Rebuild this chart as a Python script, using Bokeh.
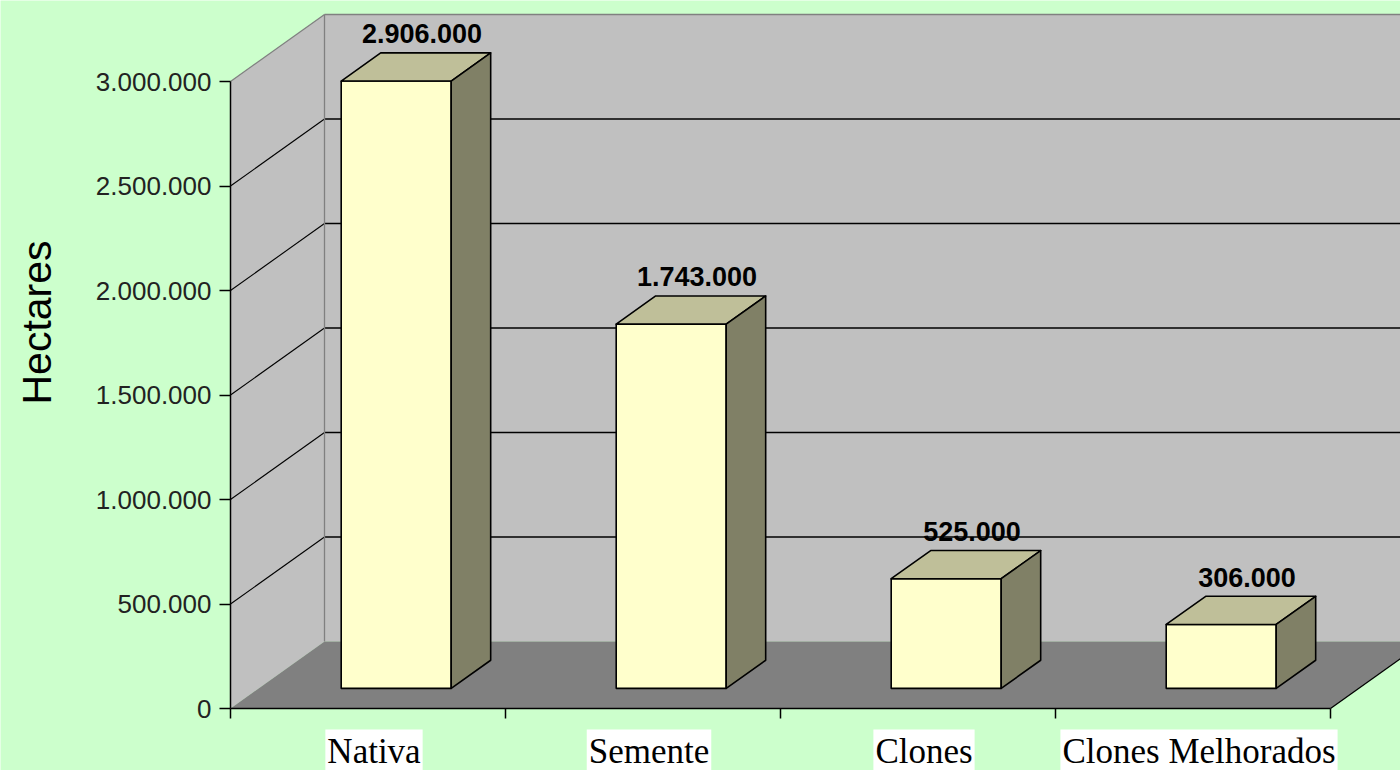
import math
from bokeh.plotting import figure
from bokeh.models import Range1d, LinearAxis, FixedTicker, Label, ColumnDataSource
from bokeh.core.properties import value
from bokeh.embed import file_html
from bokeh.resources import INLINE

# ---------------- data ----------------
categories = ["Nativa", "Semente", "Clones", "Clones Melhorados"]
hectares = [2906000, 1743000, 525000, 306000]
value_labels = ["2.906.000", "1.743.000", "525.000", "306.000"]
y_ticks = [0, 500000, 1000000, 1500000, 2000000, 2500000, 3000000]
y_tick_labels = ["0", "500.000", "1.000.000", "1.500.000", "2.000.000", "2.500.000", "3.000.000"]
y_title = "Hectares"

# ---------------- geometry / style ----------------
W, H = 1400, 770
ORIG_X, ORIG_Y = 230, 708      # pixel position of the front (0, 0) corner
CAT_PX = 275.0
VMAX = y_ticks[-1]
AXIS_PX = 627.0
vpp = VMAX / AXIS_PX            # value units per pixel
cpp = 1.0 / CAT_PX              # category units per pixel
N = len(categories)

DX = 94 * cpp                   # depth offset (x)
DY = 67 * vpp                   # depth offset (y)
F0, F1 = 0.30, 0.72             # bar front / back depth fractions
BAR_W = 0.40

BG = "#CCFFCC"
WALL = "#C0C0C0"
FLOOR = "#808080"
EDGE = "#808080"
FRONT = "#FFFFCC"
TOP = "#BFBF99"
SIDE = "#808066"

p = figure(width=W, height=H,
           x_range=Range1d(-ORIG_X * cpp, (W - ORIG_X) * cpp),
           y_range=Range1d(-(H - ORIG_Y) * vpp, ORIG_Y * vpp),
           output_backend="svg", toolbar_location=None,
           x_axis_type=None, y_axis_type=None, min_border=0)
p.background_fill_color = BG
p.border_fill_color = BG
p.outline_line_color = None

# ---------------- walls and floor ----------------
p.patch([DX, N + DX + 1, N + DX + 1, DX], [DY, DY, VMAX + DY, VMAX + DY],
        fill_color=WALL, line_color=None)
p.patch([0, 0, DX, DX], [0, VMAX, VMAX + DY, DY], fill_color=WALL, line_color=None)

grid_vals = [t for t in y_ticks if 0 < t < VMAX]
p.multi_line(xs=[[DX, N + DX + 1] for _ in grid_vals],
             ys=[[v + DY, v + DY] for v in grid_vals],
             line_color="black", line_width=1.3)
p.multi_line(xs=[[0, DX] for _ in grid_vals],
             ys=[[v, v + DY] for v in grid_vals],
             line_color="black", line_width=1.1)

# wall edges (grey)
p.multi_line(xs=[[0, DX], [DX, N + DX + 1], [DX, DX]],
             ys=[[VMAX, VMAX + DY], [VMAX + DY, VMAX + DY], [DY, VMAX + DY]],
             line_color=EDGE, line_width=1.3)

p.patch([0, DX, N + DX, N], [0, DY, DY, 0], fill_color=FLOOR, line_color=None)
p.line([N, N + DX], [0, DY], line_color="black", line_width=1.3)

# ---------------- bars ----------------
xc = [i + 0.5 + F0 * DX for i in range(N)]
xl = [c - BAR_W / 2 for c in xc]
xr = [c + BAR_W / 2 for c in xc]
yb = [F0 * DY] * N
yt = [v + F0 * DY for v in hectares]
ddx = (F1 - F0) * DX
ddy = (F1 - F0) * DY

p.quad(left=xl, right=xr, bottom=yb, top=yt,
       fill_color=FRONT, line_color="black", line_width=1.6)
p.patches(xs=[[a, b, b + ddx, a + ddx] for a, b in zip(xl, xr)],
          ys=[[t, t, t + ddy, t + ddy] for t in yt],
          fill_color=TOP, line_color="black", line_width=1.6, line_join="round")
p.patches(xs=[[b, b + ddx, b + ddx, b] for b in xr],
          ys=[[y0, y0 + ddy, t + ddy, t] for y0, t in zip(yb, yt)],
          fill_color=SIDE, line_color="black", line_width=1.6, line_join="round")

# value labels
lab_src = ColumnDataSource(dict(
    x=[c + ddx / 2 + 6 * cpp for c in xc],
    y=[t + ddy + 19 * vpp for t in yt],
    text=value_labels))
p.text(x="x", y="y", text="text", source=lab_src,
       text_font=value("Liberation Sans"), text_font_style="bold",
       text_font_size="27px", text_color="black",
       text_align="center", text_baseline="alphabetic")

# ---------------- axes (fixed at the front corner) ----------------
yaxis = LinearAxis(ticker=FixedTicker(ticks=y_ticks),
                   major_label_overrides={t: l for t, l in zip(y_ticks, y_tick_labels)},
                   bounds=(0, VMAX), fixed_location=0)
yaxis.axis_line_color = "black"
yaxis.axis_line_width = 1.5
yaxis.major_tick_line_color = "black"
yaxis.major_tick_line_width = 1.5
yaxis.major_tick_out = 11
yaxis.major_tick_in = 0
yaxis.minor_tick_line_color = None
yaxis.major_label_standoff = 8
yaxis.major_label_text_font = "Liberation Sans"
yaxis.major_label_text_font_size = "26px"
yaxis.major_label_text_color = "#222222"
p.add_layout(yaxis, "left")

xaxis = LinearAxis(ticker=FixedTicker(ticks=[], minor_ticks=list(range(N + 1))),
                   bounds=(0, N), fixed_location=0)
xaxis.axis_line_color = "black"
xaxis.axis_line_width = 1.5
xaxis.major_tick_line_color = None
xaxis.minor_tick_line_color = "black"
xaxis.minor_tick_line_width = 1.5
xaxis.minor_tick_out = 10
xaxis.minor_tick_in = 0
p.add_layout(xaxis, "below")

# axis title
p.add_layout(Label(x=(36 - ORIG_X) * cpp, y=(ORIG_Y - 322) * vpp,
                   text=y_title, angle=math.pi / 2,
                   text_font="Liberation Sans", text_font_size="41px",
                   text_color="black", text_align="center", text_baseline="middle"))

# category labels (white boxes)
for i, name in enumerate(categories):
    p.add_layout(Label(x=i + 0.5 + 6 * cpp, y=-21 * vpp,
                       text=name, text_font="Liberation Serif", text_font_size="35px",
                       text_color="black", text_align="center", text_baseline="top",
                       background_fill_color="white", padding=2))

open("out.html", "w").write(file_html(p, INLINE))
